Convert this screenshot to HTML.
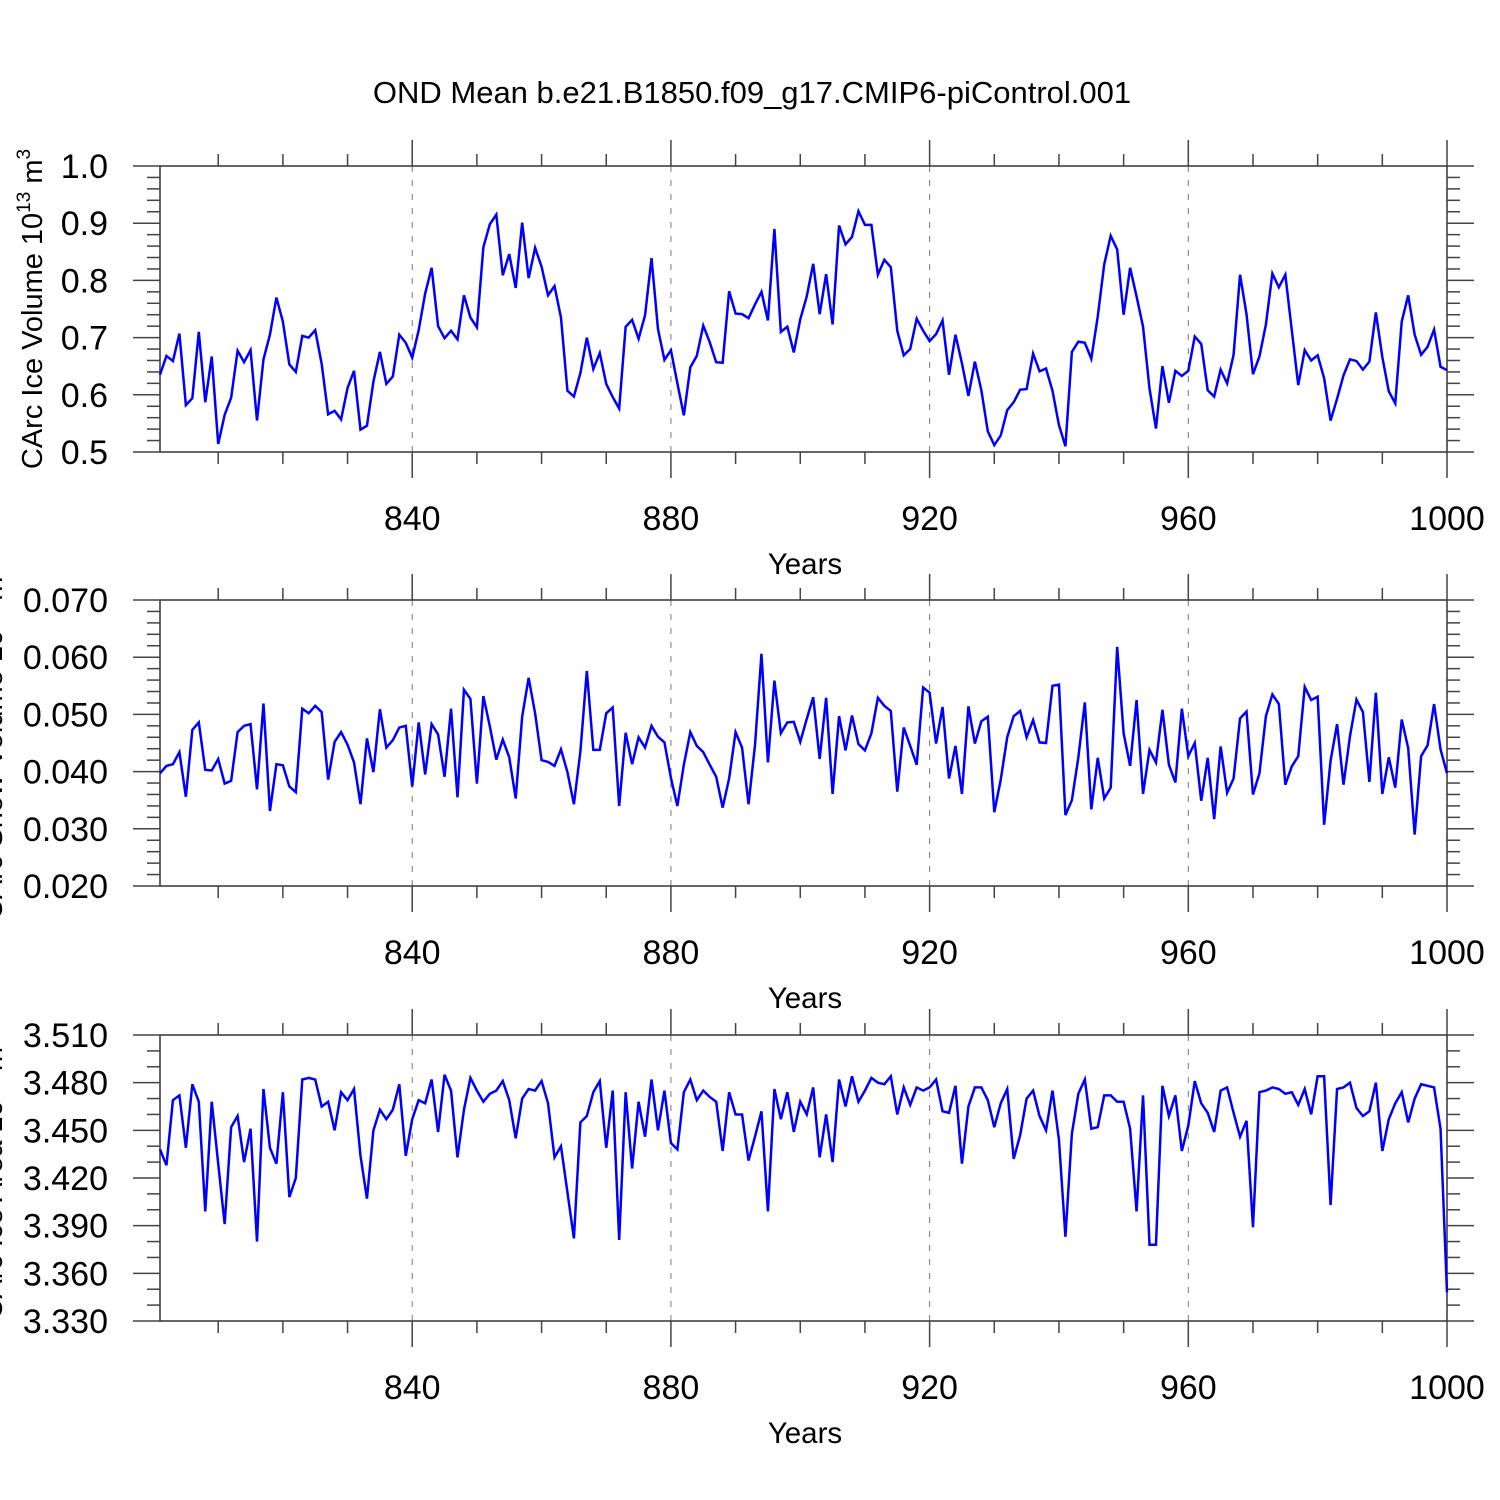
<!DOCTYPE html>
<html><head><meta charset="utf-8">
<style>
html,body{margin:0;padding:0;background:#fff;}
svg{display:block;font-family:"Liberation Sans",sans-serif;}
</style></head>
<body>
<svg id="chart" width="1500" height="1500" viewBox="0 0 1500 1500" xmlns="http://www.w3.org/2000/svg">
<rect x="0" y="0" width="1500" height="1500" fill="#fff"/>
<text x="752" y="103" font-size="31" text-anchor="middle" fill="#000">OND Mean b.e21.B1850.f09_g17.CMIP6-piControl.001</text>
</svg>
<script>
const years = [];
for (let y = 801; y <= 1000; y++) years.push(y);
const xTickLabels = [840, 880, 920, 960, 1000];

const iceVolume = [0.635,0.668,0.659,0.707,0.582,0.594,0.710,0.587,0.667,0.514,
0.565,0.595,0.677,0.657,0.678,0.555,0.662,0.705,0.770,0.728,
0.653,0.640,0.703,0.700,0.713,0.654,0.566,0.572,0.557,0.612,
0.642,0.539,0.546,0.623,0.675,0.619,0.632,0.705,0.691,0.665,
0.713,0.777,0.822,0.720,0.699,0.712,0.697,0.774,0.735,0.718,
0.858,0.898,0.915,0.809,0.846,0.787,0.901,0.804,0.857,0.824,
0.774,0.790,0.735,0.607,0.597,0.638,0.700,0.645,0.673,0.619,
0.596,0.576,0.719,0.731,0.698,0.739,0.839,0.715,0.661,0.678,
0.620,0.564,0.648,0.668,0.721,0.692,0.657,0.656,0.781,0.742,
0.741,0.734,0.758,0.780,0.730,0.890,0.710,0.719,0.674,0.732,
0.772,0.829,0.741,0.811,0.723,0.896,0.863,0.876,0.921,0.897,
0.897,0.810,0.836,0.823,0.712,0.669,0.680,0.733,0.712,0.694,
0.706,0.730,0.635,0.705,0.655,0.598,0.658,0.608,0.536,0.512,
0.529,0.573,0.587,0.609,0.610,0.672,0.641,0.646,0.607,0.547,
0.510,0.675,0.693,0.691,0.663,0.737,0.828,0.878,0.854,0.740,
0.822,0.772,0.719,0.611,0.541,0.650,0.586,0.642,0.633,0.642,
0.702,0.689,0.608,0.597,0.644,0.620,0.670,0.810,0.741,0.636,
0.667,0.723,0.812,0.788,0.810,0.713,0.617,0.678,0.660,0.669,
0.629,0.555,0.593,0.634,0.662,0.659,0.644,0.658,0.744,0.666,
0.606,0.585,0.728,0.774,0.705,0.670,0.684,0.714,0.649,0.643];

const snowVolume = [0.0397,0.0410,0.0413,0.0434,0.0356,0.0473,0.0486,0.0403,0.0402,0.0422,
0.0379,0.0384,0.0469,0.0480,0.0483,0.0369,0.0519,0.0331,0.0413,0.0411,
0.0374,0.0364,0.0510,0.0502,0.0515,0.0504,0.0386,0.0452,0.0469,0.0447,
0.0416,0.0343,0.0458,0.0399,0.0509,0.0442,0.0455,0.0477,0.0480,0.0374,
0.0486,0.0395,0.0483,0.0465,0.0391,0.0510,0.0355,0.0543,0.0527,0.0379,
0.0532,0.0479,0.0421,0.0456,0.0425,0.0353,0.0496,0.0564,0.0502,0.0420,
0.0417,0.0410,0.0439,0.0399,0.0343,0.0435,0.0576,0.0438,0.0438,0.0502,
0.0512,0.0340,0.0468,0.0413,0.0460,0.0442,0.0480,0.0461,0.0451,0.0389,
0.0340,0.0412,0.0469,0.0445,0.0434,0.0412,0.0391,0.0337,0.0388,0.0469,
0.0442,0.0343,0.0446,0.0606,0.0416,0.0559,0.0467,0.0486,0.0487,0.0452,
0.0492,0.0530,0.0422,0.0529,0.0361,0.0497,0.0437,0.0498,0.0448,0.0437,
0.0467,0.0529,0.0515,0.0506,0.0365,0.0477,0.0445,0.0412,0.0547,0.0538,
0.0449,0.0513,0.0388,0.0445,0.0361,0.0514,0.0449,0.0488,0.0496,0.0329,
0.0386,0.0460,0.0497,0.0506,0.0460,0.0490,0.0451,0.0450,0.0550,0.0552,
0.0324,0.0350,0.0425,0.0521,0.0334,0.0424,0.0353,0.0372,0.0618,0.0467,
0.0410,0.0525,0.0361,0.0438,0.0416,0.0508,0.0412,0.0381,0.0510,0.0427,
0.0450,0.0349,0.0424,0.0317,0.0444,0.0363,0.0388,0.0493,0.0505,0.0360,
0.0397,0.0497,0.0535,0.0518,0.0377,0.0409,0.0427,0.0548,0.0525,0.0531,
0.0307,0.0419,0.0483,0.0377,0.0462,0.0526,0.0504,0.0382,0.0538,0.0361,
0.0425,0.0372,0.0491,0.0441,0.0290,0.0427,0.0446,0.0518,0.0439,0.0397];

const iceArea = [3.438,3.428,3.469,3.472,3.439,3.479,3.468,3.399,3.468,3.429,
3.391,3.452,3.459,3.430,3.451,3.380,3.476,3.439,3.429,3.474,
3.408,3.420,3.482,3.483,3.482,3.465,3.468,3.450,3.474,3.469,
3.476,3.434,3.407,3.450,3.463,3.457,3.463,3.479,3.434,3.457,
3.469,3.467,3.482,3.449,3.485,3.475,3.433,3.463,3.483,3.475,
3.468,3.473,3.475,3.481,3.469,3.445,3.470,3.476,3.475,3.481,
3.467,3.433,3.440,3.411,3.382,3.455,3.459,3.474,3.481,3.439,
3.475,3.381,3.474,3.426,3.468,3.446,3.482,3.450,3.475,3.442,
3.438,3.474,3.482,3.469,3.475,3.471,3.468,3.437,3.474,3.460,
3.460,3.431,3.446,3.462,3.399,3.476,3.457,3.474,3.449,3.468,
3.460,3.477,3.433,3.460,3.430,3.482,3.465,3.484,3.468,3.475,
3.483,3.480,3.479,3.484,3.460,3.477,3.466,3.477,3.475,3.477,
3.482,3.462,3.461,3.478,3.429,3.465,3.477,3.477,3.469,3.452,
3.467,3.476,3.432,3.447,3.470,3.475,3.459,3.450,3.475,3.444,
3.383,3.448,3.473,3.482,3.451,3.452,3.472,3.472,3.468,3.468,
3.451,3.399,3.472,3.378,3.378,3.478,3.459,3.472,3.437,3.453,
3.481,3.467,3.461,3.449,3.475,3.477,3.461,3.446,3.456,3.389,
3.474,3.475,3.477,3.476,3.473,3.474,3.466,3.476,3.460,3.484,
3.484,3.403,3.476,3.477,3.480,3.464,3.459,3.462,3.480,3.437,
3.457,3.467,3.474,3.455,3.470,3.479,3.478,3.477,3.451,3.348];

const volTicks = ["0.5","0.6","0.7","0.8","0.9","1.0"];
const snowTicks = ["0.020","0.030","0.040","0.050","0.060","0.070"];
const areaTicks = ["3.330","3.360","3.390","3.420","3.450","3.480","3.510"];

const NS = "http://www.w3.org/2000/svg";
const svg = document.getElementById('chart');
const X0 = 160, X1 = 1447, XMIN = 801, XMAX = 1000;
function xScale(v){ return X0 + (v - XMIN) / (XMAX - XMIN) * (X1 - X0); }
function mk(tag, attrs, parent){
  const e = document.createElementNS(NS, tag);
  for (const k in attrs) e.setAttribute(k, attrs[k]);
  (parent || svg).appendChild(e);
  return e;
}

const panels = [
  {key:'ice-volume', top:166, bot:452, ymin:0.5, ymax:1.0, ticks:volTicks, minor:0.02, data:iceVolume,
   label:['CArc Ice Volume 10','13',' m','3'], lx:42},
  {key:'snow-volume', top:600, bot:886, ymin:0.020, ymax:0.070, ticks:snowTicks, minor:0.002, data:snowVolume,
   label:['CArc Snow Volume 10','13',' m','3'], lx:2},
  {key:'ice-area', top:1035, bot:1321, ymin:3.330, ymax:3.510, ticks:areaTicks, minor:0.010, data:iceArea,
   label:['CArc Ice Area 10','13',' m','2'], lx:2}
];

panels.forEach(p => {
  const g = mk('g', {});
  
  
  const yScale = v => p.bot - (v - p.ymin) / (p.ymax - p.ymin) * (p.bot - p.top);

  xTickLabels.slice(0, 4).forEach(t => {
    const l = mk('line', {x1:xScale(t), x2:xScale(t), y1:p.top, y2:p.bot, stroke:'#777', 'stroke-width':1, 'stroke-dasharray':'6,8'}, g);
    
    
  });

  const fr = mk('rect', {x:X0, y:p.top, width:X1-X0, height:p.bot-p.top, fill:'none', stroke:'#333', 'stroke-width':1.5}, g);
  
  

  for (let t = 810; t <= 1000; t += 10) {
    const major = xTickLabels.indexOf(t) >= 0;
    const len = major ? 26 : 12;
    const x = xScale(t);
    mk('line', {x1:x, x2:x, y1:p.bot, y2:p.bot+len, stroke:'#444', 'stroke-width':1.5}, g);
    mk('line', {x1:x, x2:x, y1:p.top, y2:p.top-len, stroke:'#444', 'stroke-width':1.5}, g);
  }
  xTickLabels.forEach(t => {
    const tx = mk('text', {x:xScale(t), y:p.bot+78, 'font-size':34, 'text-anchor':'middle', fill:'#000'}, g);
    tx.textContent = t;
    
    
  });
  const xt = mk('text', {x:805, y:p.bot+122, 'font-size':29.5, 'text-anchor':'middle', fill:'#000'}, g);
  xt.textContent = 'Years';
  
  

  const nMinor = Math.round((p.ymax - p.ymin) / p.minor);
  const majStep = (p.ymax - p.ymin) / (p.ticks.length - 1);
  for (let i = 0; i <= nMinor; i++) {
    const v = p.ymin + i * p.minor;
    const r = (v - p.ymin) / majStep;
    const major = Math.abs(r - Math.round(r)) < 1e-6;
    const len = major ? 27 : 13;
    const y = yScale(v);
    mk('line', {x1:X0-len, x2:X0, y1:y, y2:y, stroke:'#444', 'stroke-width':1.5}, g);
    mk('line', {x1:X1, x2:X1+len, y1:y, y2:y, stroke:'#444', 'stroke-width':1.5}, g);
  }
  p.ticks.forEach((lab, i) => {
    const v = p.ymin + i * majStep;
    const tx = mk('text', {x:108, y:yScale(v)+12, 'font-size':34, 'text-anchor':'end', fill:'#000'}, g);
    tx.textContent = lab;
    
    
  });

  const cy = (p.top + p.bot) / 2;
  const yt = mk('text', {x:0, y:0, 'font-size':29, 'text-anchor':'middle', fill:'#000', transform:'translate(' + p.lx + ',' + cy + ') rotate(-90)'}, g);
  
  
  const t1 = mk('tspan', {}, yt); t1.textContent = p.label[0];
  const t2 = mk('tspan', {'font-size':19, dy:-12}, yt); t2.textContent = p.label[1];
  const t3 = mk('tspan', {dy:12}, yt); t3.textContent = p.label[2];
  const t4 = mk('tspan', {'font-size':19, dy:-12}, yt); t4.textContent = p.label[3];

  const d = p.data.map((v, i) => (i ? 'L' : 'M') + xScale(years[i]).toFixed(2) + ',' + yScale(v).toFixed(2)).join(' ');
  const path = mk('path', {d:d, fill:'none', stroke:'#0000ff', 'stroke-width':2.5, 'stroke-linejoin':'miter'}, g);
  
  
});
</script>
</body></html>
